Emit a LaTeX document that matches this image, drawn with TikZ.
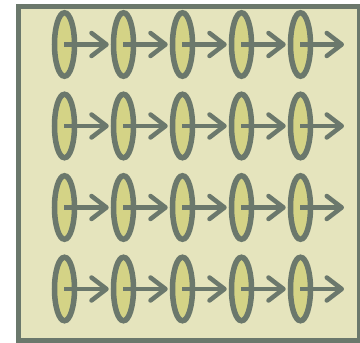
\documentclass[tikz,border=0pt]{standalone}
\usepackage{tikz}
\usetikzlibrary{shapes.geometric, arrows.meta, positioning}
\definecolor{cellline}{HTML}{6B786C}
\definecolor{cellfill}{HTML}{D4D386}
\definecolor{panelfill}{HTML}{E5E4BD}
\begin{document}
\begin{tikzpicture}[x=1pt, y=-1pt,
  cell/.style={draw=cellline, fill=cellfill, ellipse, line width=5.5pt, minimum width=20pt, minimum height=63.5pt, inner sep=0pt},
  link/.style={draw=cellline, line width=4.5pt, -{Straight Barb[length=15pt,width=23pt,round]}}]
\useasboundingbox (0,0) rectangle (360,343);
% Panel
\draw[cellline, fill=panelfill, line width=5pt] (18.5,6.5) rectangle (359.5,340.5);
% Grid of cells
\foreach \r/\y in {1/44.5, 2/126, 3/207.5, 4/289} {
  \foreach \c/\x in {1/64.5, 2/123.5, 3/182.5, 4/241.5, 5/300.5} {
    \node[cell] (c\r\c) at (\x,\y) {};
  }
  \coordinate (e\r) at (344,\y);
}
% Links between cells
\foreach \r in {1,...,4} {
  \foreach \c [evaluate=\c as \n using int(\c+1)] in {1,...,4} {
    \draw[link] (c\r\c.center) -- ([xshift=-2pt]c\r\n.west);
  }
  \draw[link] (c\r5.center) -- (e\r);
}
\end{tikzpicture}
\end{document}
